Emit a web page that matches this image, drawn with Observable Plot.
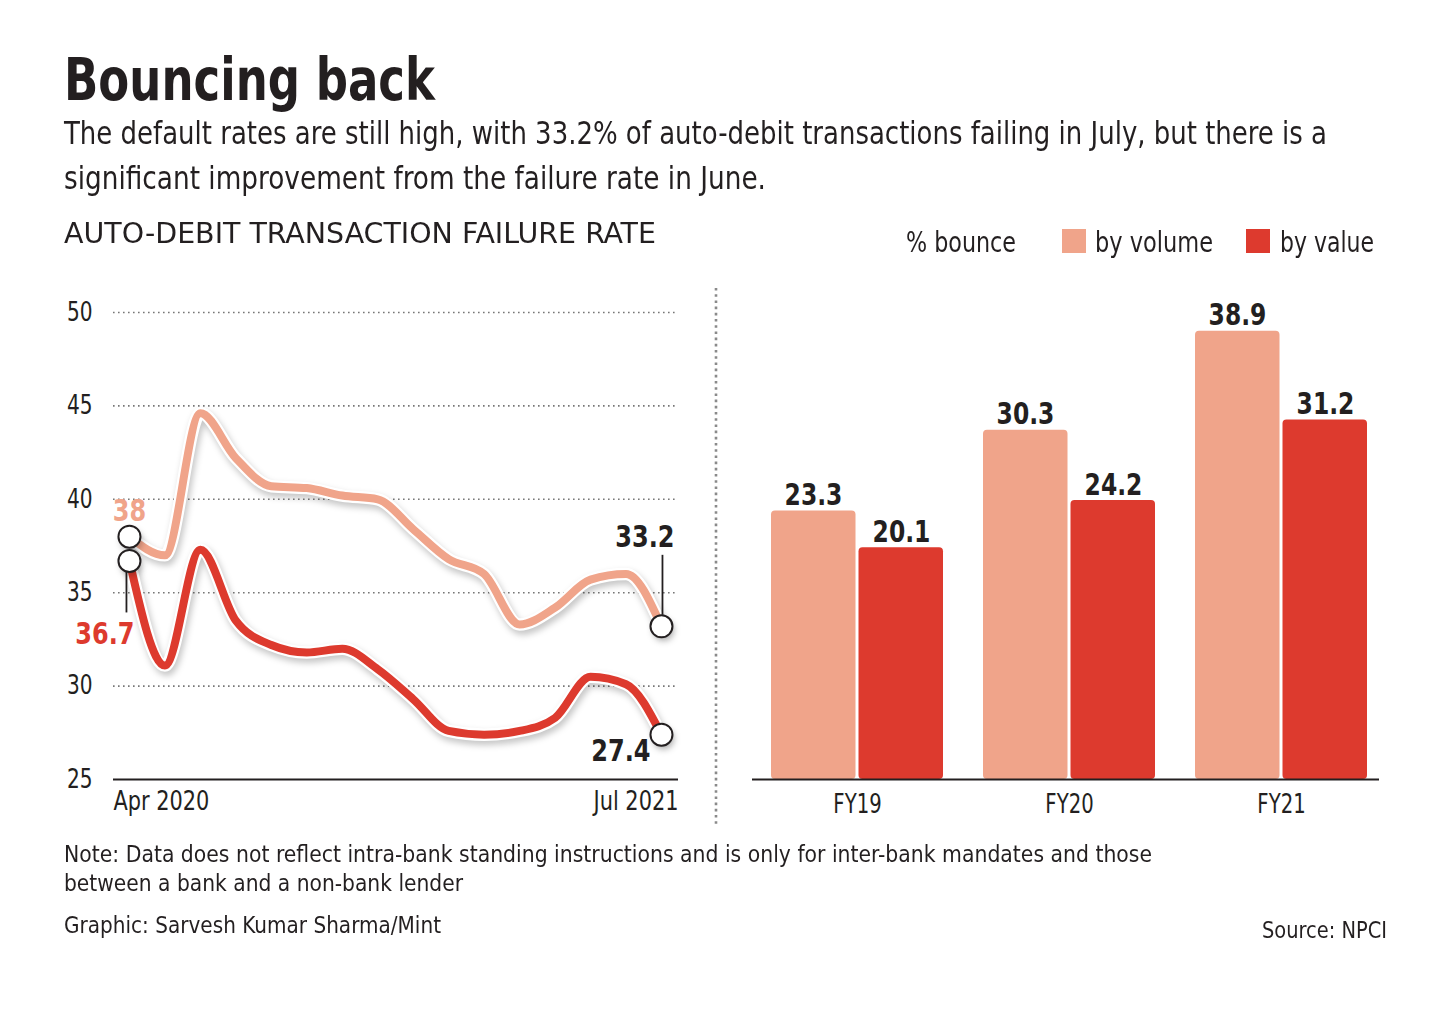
<!DOCTYPE html>
<html><head><meta charset="utf-8">
<script src="https://cdn.jsdelivr.net/npm/d3@7"></script>
<script src="https://cdn.jsdelivr.net/npm/@observablehq/plot@0.6"></script>
<style>
html,body{margin:0;padding:0;background:#fff;}
#root{position:relative;width:1441px;height:1012px;overflow:hidden;background:#fff;}
#root svg{font-family:"Liberation Sans Narrow","Arial Narrow","DejaVu Sans Condensed",sans-serif;}
.abs{position:absolute;}
</style></head><body>
<div id="root"></div>
<script>
// ---------- data ----------
const months = ["Apr 2020","May 2020","Jun 2020","Jul 2020","Aug 2020","Sep 2020","Oct 2020","Nov 2020","Dec 2020","Jan 2021","Feb 2021","Mar 2021","Apr 2021","May 2021","Jun 2021","Jul 2021"];
const byVolume = [38, 37.0, 44.6, 42.2, 40.7, 40.6, 40.2, 40.0, 38.4, 36.8, 36.0, 33.3, 34.2, 35.7, 36.0, 33.2];
const byValue  = [36.7, 31.1, 37.3, 33.5, 32.2, 31.8, 32.0, 30.9, 29.3, 27.6, 27.4, 27.6, 28.3, 30.5, 30.1, 27.4];
const yTicks = [25, 30, 35, 40, 45, 50];
const fiscalYears = ["FY19", "FY20", "FY21"];
const fyVolume = [23.3, 30.3, 38.9];
const fyValue  = [20.1, 24.2, 31.2];
const seriesNames = ["by volume", "by value"];

const colors = {"by volume": "#F0A48A", "by value": "#DD3A2E"};
const ink = "#231f20";
const FONT = '"Liberation Sans Narrow","Arial Narrow","DejaVu Sans Condensed",sans-serif';

const root = document.getElementById("root");
const ns = "http://www.w3.org/2000/svg";

// ---------- decorations svg (swatches, divider) ----------
const overlay = document.createElementNS(ns, "svg");
overlay.setAttribute("width", 1441); overlay.setAttribute("height", 1012);
overlay.setAttribute("class", "abs"); overlay.style.left = "0px"; overlay.style.top = "0px";
root.appendChild(overlay);
function addRect(x, y, w, h, fill) {
  const r = document.createElementNS(ns, "rect");
  r.setAttribute("x", x); r.setAttribute("y", y); r.setAttribute("width", w); r.setAttribute("height", h);
  r.setAttribute("fill", fill); overlay.appendChild(r);
}
addRect(1062, 229, 24, 24, colors["by volume"]);
addRect(1246, 229, 24, 24, colors["by value"]);
const div = document.createElementNS(ns, "line");
div.setAttribute("x1", 716); div.setAttribute("x2", 716);
div.setAttribute("y1", 288); div.setAttribute("y2", 824);
div.setAttribute("stroke", "#8a8a8a"); div.setAttribute("stroke-width", 2.6);
div.setAttribute("stroke-dasharray", "2.6,3.6");
overlay.appendChild(div);

// ---------- html texts, positioned by baseline and condensed to width ----------
function htmlText(str, x, baseline, size, width, opts = {}) {
  const d = document.createElement("div");
  d.style.cssText = `position:absolute;left:${x}px;top:0px;white-space:nowrap;font-family:${FONT};font-size:${size}px;line-height:1.2;font-weight:${opts.weight || "normal"};color:${opts.fill || ink};transform-origin:0 0;`;
  d.appendChild(document.createTextNode(str));
  const probe = document.createElement("span");
  probe.style.cssText = "display:inline-block;width:0;height:0;vertical-align:baseline;";
  d.appendChild(probe);
  root.appendChild(d);
  const b = probe.offsetTop;
  const w = d.getBoundingClientRect().width;
  d.style.top = (baseline - b) + "px";
  d.style.transform = `scaleX(${(width / w).toFixed(4)})`;
}
htmlText("Bouncing back", 64, 100, 58, 371, {weight: "bold"});
htmlText("The default rates are still high, with 33.2% of auto-debit transactions failing in July, but there is a", 64, 144, 32, 1263);
htmlText("significant improvement from the failure rate in June.", 64, 189, 32, 702);
htmlText("AUTO-DEBIT TRANSACTION FAILURE RATE", 64, 243, 28.5, 592);
htmlText("% bounce", 906, 252, 28, 110);
htmlText("by volume", 1095, 252, 28, 118);
htmlText("by value", 1280, 252, 28, 94);
htmlText("Note: Data does not reflect intra-bank standing instructions and is only for inter-bank mandates and those", 64, 862, 22.5, 1088);
htmlText("between a bank and a non-bank lender", 64, 891, 22.5, 399);
htmlText("Graphic: Sarvesh Kumar Sharma/Mint", 64, 933, 22.5, 377);
htmlText("Source: NPCI", 1262, 938, 22.5, 125);

// condense Plot text to mimic the narrow newspaper face
function condense(svg, f) {
  svg.querySelectorAll("text").forEach(t => {
    const w = t.getComputedTextLength();
    if (w > 0) { t.setAttribute("textLength", (w * f).toFixed(1)); t.setAttribute("lengthAdjust", "spacingAndGlyphs"); }
  });
}

// ---------- line chart ----------
const volPts = months.map((m, i) => ({i, month: m, v: byVolume[i], series: "by volume"}));
const valPts = months.map((m, i) => ({i, month: m, v: byValue[i], series: "by value"}));
const last = months.length - 1;

function seriesLines(pts, color) {
  return [
    Plot.line(pts, {x: "i", y: "v", curve: "monotone-x", stroke: "#000", strokeOpacity: 0.22, strokeWidth: 13, dx: 2, dy: 4, imageFilter: "blur(3px)"}),
    Plot.line(pts, {x: "i", y: "v", curve: "monotone-x", stroke: "#fff", strokeWidth: 12.5}),
    Plot.line(pts, {x: "i", y: "v", curve: "monotone-x", stroke: color, strokeWidth: 8})
  ];
}
const endPts = [volPts[0], valPts[0], volPts[last], valPts[last]];

const lineChart = Plot.plot({
  width: 700, height: 560,
  marginLeft: 113, marginRight: 22, marginTop: 32, marginBottom: 61,
  style: {fontFamily: FONT, fontSize: "25px", color: ink, background: "transparent", overflow: "visible"},
  x: {domain: [-0.45, last + 0.48], axis: null},
  y: {domain: [25, 50], axis: null},
  marks: [
    Plot.gridY(yTicks.slice(1), {stroke: "#777", strokeOpacity: 1, strokeWidth: 1.6, strokeDasharray: "1.6,3.4"}),
    Plot.axisY(yTicks, {tickSize: 0, tickPadding: 21, fontSize: 26, fill: ink, label: null}),
    Plot.ruleY([25], {stroke: ink, strokeWidth: 2}),
    Plot.text([months[0]], {text: d => d, frameAnchor: "bottom-left", textAnchor: "start", lineAnchor: "top", dy: 11, fontSize: 27, fill: ink}),
    Plot.text([months[last]], {text: d => d, frameAnchor: "bottom-right", textAnchor: "end", lineAnchor: "top", dy: 11, fontSize: 27, fill: ink}),
    ...seriesLines(volPts, colors["by volume"]),
    ...seriesLines(valPts, colors["by value"]),
    // leader lines
    Plot.ruleX([valPts[0]], {x: "i", y1: "v", y2: "v", insetTop: 11, insetBottom: -52, dx: -3, stroke: ink, strokeWidth: 1.8}),
    Plot.ruleX([volPts[last]], {x: "i", y1: "v", y2: "v", insetTop: -71, insetBottom: 11, dx: 1, stroke: ink, strokeWidth: 1.8}),
    // end circles
    Plot.dot(endPts, {x: "i", y: "v", r: 11, fill: "#000", fillOpacity: 0.25, dx: 2, dy: 4, imageFilter: "blur(3px)"}),
    Plot.dot(endPts, {x: "i", y: "v", r: 11, fill: "#fff", stroke: ink, strokeWidth: 2}),
    // value labels
    Plot.text([volPts[0]], {x: "i", y: "v", text: d => String(d.v), dy: -26, fill: colors["by volume"], fontWeight: "bold", fontSize: 31}),
    Plot.text([valPts[0]], {x: "i", y: "v", text: d => d.v.toFixed(1), textAnchor: "end", dx: 5, dy: 73, fill: colors["by value"], fontWeight: "bold", fontSize: 31}),
    Plot.text([volPts[last]], {x: "i", y: "v", text: d => d.v.toFixed(1), textAnchor: "end", dx: 13, dy: -89, fill: ink, fontWeight: "bold", fontSize: 31}),
    Plot.text([valPts[last]], {x: "i", y: "v", text: d => d.v.toFixed(1), textAnchor: "end", dx: -11, dy: 16, fill: ink, fontWeight: "bold", fontSize: 31})
  ]
});
lineChart.classList.add("abs");
lineChart.style.left = "0px"; lineChart.style.top = "280px";
root.appendChild(lineChart);
condense(lineChart, 0.86);

// ---------- bar chart ----------
const volBars = fiscalYears.map((fy, k) => ({fy, v: fyVolume[k], series: seriesNames[0]}));
const valBars = fiscalYears.map((fy, k) => ({fy, v: fyValue[k], series: seriesNames[1]}));

const barChart = Plot.plot({
  width: 680, height: 560,
  marginLeft: 12, marginRight: 41, marginTop: 38, marginBottom: 61,
  style: {fontFamily: FONT, fontSize: "24px", color: ink, background: "transparent", overflow: "visible"},
  x: {domain: fiscalYears, range: [31, 627], paddingInner: 0.19, paddingOuter: 0, axis: null},
  y: {domain: [0, 40], axis: null},
  marks: [
    Plot.barY(volBars, {x: "fy", y: "v", fill: colors["by volume"], insetRight: 87.5, rx: 4}),
    Plot.barY(valBars, {x: "fy", y: "v", fill: colors["by value"], insetLeft: 87.5, rx: 4}),
    Plot.ruleY([0], {stroke: ink, strokeWidth: 2}),
    Plot.text(volBars, {x: "fy", y: "v", text: d => d.v.toFixed(1), dx: -44, dy: -6, lineAnchor: "bottom", fontWeight: "bold", fontSize: 31, fill: ink}),
    Plot.text(valBars, {x: "fy", y: "v", text: d => d.v.toFixed(1), dx: 44, dy: -6, lineAnchor: "bottom", fontWeight: "bold", fontSize: 31, fill: ink}),
    Plot.axisX({tickSize: 0, tickPadding: 15, fontSize: 26, fill: ink, label: null})
  ]
});
barChart.classList.add("abs");
barChart.style.left = "740px"; barChart.style.top = "280px";
root.appendChild(barChart);
condense(barChart, 0.84);
</script>
</body></html>
